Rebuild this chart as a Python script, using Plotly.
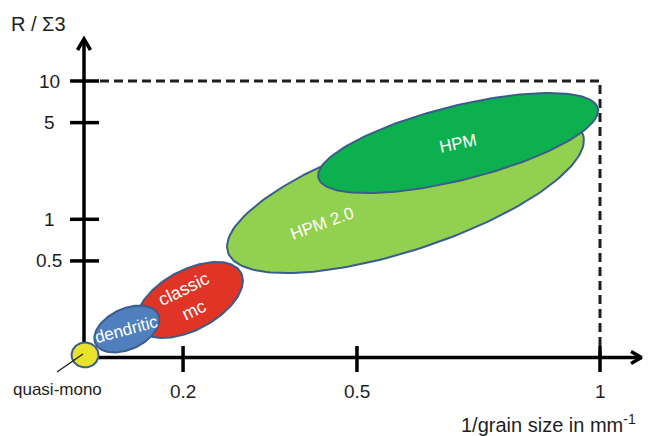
import numpy as np
import plotly.graph_objects as go

W, H = 649, 436

# ---------------- data ----------------
x_tick_labels = ["0.2", "0.5", "1"]
y_tick_values = [0.5, 1, 5, 10]
y_tick_labels = ["0.5", "1", "5", "10"]

region_names = ["HPM 2.0", "HPM", "classic<br>mc", "dendritic", "quasi-mono"]
region_x = [0.623, 0.725, 0.205, 0.083, 0.002]      # schematic 1/grain size position
region_R = [1.537, 3.56, 0.261, 0.161, 0.1045]      # R / Σ3

# ---------------- layout / style constants ----------------
x_tick_pos = [0.192, 0.529, 1.0]          # schematic tick positions on x axis
X0_PX, X_UNIT_PX = 84.0, 516.0            # pixel of x=0 and pixels per x unit
PY_1, PX_PER_DEC = 219.3, 138.3           # pixel of R=1 and pixels per decade
Y_ORIGIN = 0.1

ell_a = [187, 144, 58, 34.6, 13.5]        # semi-major (px)
ell_b = [56.6, 37, 30, 20.3, 12.5]        # semi-minor (px)
ell_tilt = [18.3, 14, 28, 25, 0]          # degrees
ell_fill = ["#92d050", "#0db04f", "#e03426", "#4f80bd", "#e8e22c"]
label_dx = [-83, 0, -1, 0, 0]             # label offset from ellipse centre (px)
label_dy = [30, 0, 0, 0, 0]
label_angle = [-20, -12, -26, -15, 0]
label_size = [17, 17, 18, 17, 16]
OUTLINE = "#3a5d8c"
INK = "#1e1e1e"
FONT = "Liberation Sans, Arial, sans-serif"


def px2x(px):
    return (np.asarray(px, dtype=float) - X0_PX) / X_UNIT_PX


def py2y(py):
    return 10 ** ((PY_1 - np.asarray(py, dtype=float)) / PX_PER_DEC)


def x2px(x):
    return X0_PX + x * X_UNIT_PX


def y2py(y):
    return PY_1 - np.log10(y) * PX_PER_DEC


def ellipse(cx, cy, a, b, tilt, n=180):
    t = np.linspace(0, 2 * np.pi, n)
    th = np.radians(tilt)
    ex = a * np.cos(t) * np.cos(th) - b * np.sin(t) * np.sin(th)
    ey = a * np.cos(t) * np.sin(th) + b * np.sin(t) * np.cos(th)
    return px2x(cx + ex), py2y(cy - ey)


def fl(v):
    return [float(a) for a in v]


fig = go.Figure()

# dashed frame
fig.add_trace(go.Scatter(
    x=[float(px2x(100)), 1.0, 1.0], y=[10, 10, Y_ORIGIN],
    mode="lines", line=dict(color=INK, width=3, dash="9px,5px"),
    hoverinfo="skip"))

# axis lines
fig.add_trace(go.Scatter(
    x=[0, float(px2x(638)), None, 0, 0],
    y=[Y_ORIGIN, Y_ORIGIN, None, Y_ORIGIN, float(py2y(42))],
    mode="lines", line=dict(color="black", width=3.5), hoverinfo="skip"))

# arrow heads (open chevrons)
fig.add_trace(go.Scatter(
    x=fl(px2x([77.5, 84, 90.5])) + [None] + fl(px2x([631, 641.5, 631])),
    y=fl(py2y([50, 39, 50])) + [None] + fl(py2y([351.5, 357.5, 363.5])),
    mode="lines", line=dict(color="black", width=3.5), hoverinfo="skip"))

# tick crosses
tx, ty = [], []
for xp in x_tick_pos:
    tx += [xp, xp, None]
    ty += [float(py2y(346)), float(py2y(372)), None]
for yv in y_tick_values:
    tx += [float(px2x(70)), float(px2x(99)), None]
    ty += [yv, yv, None]
fig.add_trace(go.Scatter(x=tx, y=ty, mode="lines",
                         line=dict(color="black", width=3.5), hoverinfo="skip"))

# regions
annotations = []
for i, name in enumerate(region_names):
    cx, cy = x2px(region_x[i]), y2py(region_R[i])
    ex, ey = ellipse(cx, cy, ell_a[i], ell_b[i], ell_tilt[i])
    fig.add_trace(go.Scatter(
        x=ex, y=ey, mode="lines", fill="toself", fillcolor=ell_fill[i],
        line=dict(color=OUTLINE, width=2), hoverinfo="skip"))
    if name != "quasi-mono":
        annotations.append(dict(
            x=float(px2x(cx + label_dx[i])),
            y=float(np.log10(py2y(cy + label_dy[i]))), xref="x", yref="y",
            text=name, showarrow=False, textangle=label_angle[i],
            font=dict(family=FONT, size=label_size[i], color="white"),
            xanchor="center", yanchor="middle"))

# leader line for quasi-mono
fig.add_trace(go.Scatter(
    x=[float(px2x(83)), float(px2x(57))], y=[float(py2y(354)), float(py2y(372))],
    mode="lines", line=dict(color=INK, width=1.4), hoverinfo="skip"))
annotations.append(dict(
    x=float(px2x(57)), y=float(np.log10(py2y(389))), xref="x", yref="y",
    text="quasi-mono", showarrow=False,
    font=dict(family=FONT, size=17, color=INK), xanchor="center", yanchor="middle"))

# tick labels
for xp, lab in zip(x_tick_pos, x_tick_labels):
    annotations.append(dict(x=xp, y=float(np.log10(py2y(391))), xref="x", yref="y",
                            text=lab, showarrow=False,
                            font=dict(family=FONT, size=19, color=INK),
                            xanchor="center", yanchor="middle"))
for yv, lab in zip(y_tick_values, y_tick_labels):
    annotations.append(dict(x=float(px2x(49)), y=float(np.log10(yv)), xref="x", yref="y",
                            text=lab, showarrow=False,
                            font=dict(family=FONT, size=19, color=INK),
                            xanchor="center", yanchor="middle"))

# axis titles
annotations.append(dict(x=38 / W, y=1 - 24 / H, xref="paper", yref="paper",
                        text="R / Σ3", showarrow=False,
                        font=dict(family=FONT, size=20, color=INK),
                        xanchor="center", yanchor="middle"))
annotations.append(dict(x=459 / W, y=1 - 423 / H, xref="paper", yref="paper",
                        text="1/grain size in mm<sup>-1</sup>", showarrow=False,
                        font=dict(family=FONT, size=20, color=INK),
                        xanchor="left", yanchor="middle"))

fig.update_layout(
    width=W, height=H, margin=dict(l=0, r=0, t=0, b=0),
    paper_bgcolor="white", plot_bgcolor="white", showlegend=False,
    hovermode=False, annotations=annotations,
    xaxis=dict(range=[float(px2x(0)), float(px2x(W))], visible=False, fixedrange=True),
    yaxis=dict(type="log", range=[(PY_1 - H) / PX_PER_DEC, PY_1 / PX_PER_DEC],
               visible=False, fixedrange=True),
)

fig.write_html("out.html", config={"displayModeBar": False},
               post_script="document.body.style.margin='0';")
